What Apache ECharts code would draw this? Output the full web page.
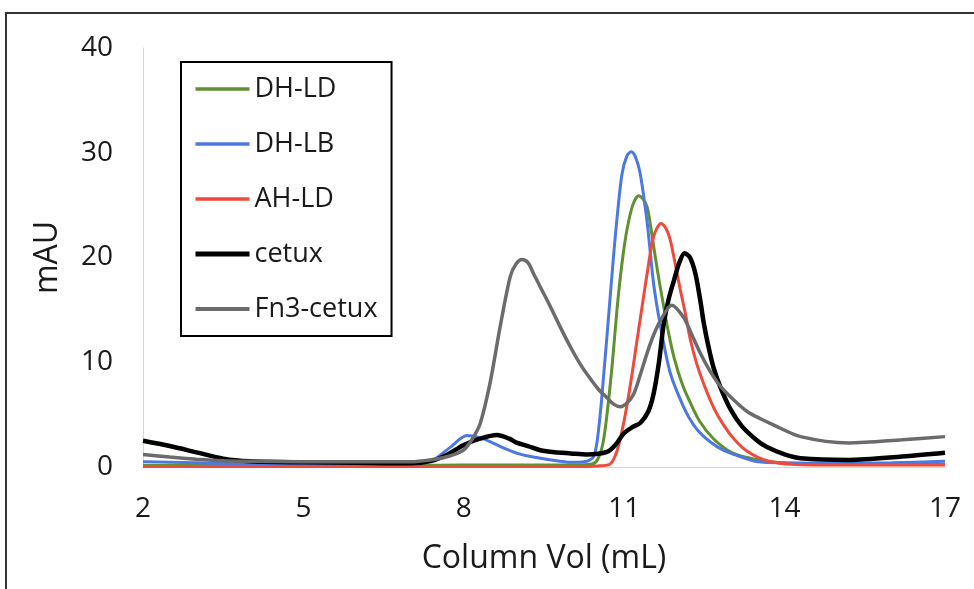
<!DOCTYPE html>
<html>
<head>
<meta charset="utf-8">
<script src="https://cdn.jsdelivr.net/npm/echarts@6/dist/echarts.min.js"></script>
<style>
  html, body { margin: 0; padding: 0; background: #fff; }
  #chart { width: 974px; height: 589px; }
</style>
</head>
<body>
<div id="chart"></div>
<script>
// column volume (mL) and absorbance (mAU)
const seriesNames = ['DH-LD', 'DH-LB', 'AH-LD', 'cetux', 'Fn3-cetux'];
const xTicks = [2, 5, 8, 11, 14, 17];

const dhldX = [2, 3, 4, 5, 6, 7, 8, 9, 10, 10.4, 10.5, 10.6, 10.68, 10.78, 10.87, 10.96, 11.05, 11.16, 11.27, 11.35, 11.43, 11.5, 11.58, 11.66, 11.74, 11.83, 11.93, 12.08, 12.24, 12.42, 12.67, 13.0, 13.3, 13.7, 14.5, 15.5, 16.5, 17];
const dhldY = [0.15, 0.15, 0.15, 0.15, 0.15, 0.15, 0.2, 0.2, 0.2, 0.3, 0.7, 2.2, 5.1, 10.0, 15.3, 19.5, 22.6, 25.0, 25.9, 25.6, 24.8, 22.8, 20.1, 17.6, 15.3, 12.8, 10.5, 8.0, 6.1, 4.3, 2.7, 1.4, 0.9, 0.5, 0.3, 0.25, 0.25, 0.25];

const dhlbX = [2, 2.5, 3, 4, 5, 6, 7, 7.4, 7.75, 8.06, 8.3, 8.5, 8.75, 9.0, 9.3, 9.6, 10.0, 10.25, 10.43, 10.53, 10.62, 10.71, 10.8, 10.88, 10.96, 11.05, 11.13, 11.21, 11.3, 11.43, 11.55, 11.68, 11.86, 12.11, 12.3, 12.49, 12.75, 13.0, 13.5, 14, 15, 16, 17];
const dhlbY = [0.5, 0.45, 0.4, 0.3, 0.3, 0.3, 0.35, 0.6, 1.9, 3.0, 2.8, 2.4, 1.8, 1.3, 0.95, 0.7, 0.45, 0.5, 1.0, 4.0, 9.0, 14.5, 20.1, 24.5, 28.0, 29.7, 30.1, 29.6, 28.0, 23.3, 17.5, 13.4, 9.0, 5.75, 4.0, 2.9, 1.9, 1.3, 0.5, 0.4, 0.35, 0.4, 0.55];

const ahldX = [2, 4, 6, 8, 10, 10.5, 10.74, 10.87, 10.99, 11.12, 11.24, 11.34, 11.43, 11.55, 11.69, 11.78, 11.86, 11.95, 12.05, 12.15, 12.24, 12.36, 12.49, 12.67, 12.86, 13.05, 13.3, 13.67, 14.2, 15, 16, 17];
const ahldY = [0.05, 0.05, 0.05, 0.05, 0.05, 0.1, 0.3, 1.6, 4.2, 8.0, 12.1, 15.5, 18.5, 22.0, 23.25, 22.8, 21.7, 19.5, 16.9, 14.5, 12.1, 9.8, 7.9, 5.7, 4.0, 2.7, 1.5, 0.6, 0.25, 0.2, 0.2, 0.2];

const cetuxX = [2, 2.5, 3, 3.5, 4, 5, 6, 7, 7.4, 7.7, 8.0, 8.3, 8.62, 8.85, 9.0, 9.2, 9.43, 9.7, 10.0, 10.3, 10.68, 10.85, 10.99, 11.15, 11.3, 11.45, 11.55, 11.65, 11.74, 11.83, 11.93, 12.03, 12.13, 12.23, 12.33, 12.42, 12.49, 12.58, 12.67, 12.8, 12.99, 13.2, 13.49, 13.67, 14.0, 14.3, 15.2, 16.2, 17];
const cetuxY = [2.5, 2.0, 1.4, 0.8, 0.55, 0.45, 0.4, 0.35, 0.6, 1.2, 2.1, 2.7, 3.05, 2.7, 2.3, 2.0, 1.6, 1.4, 1.3, 1.2, 1.45, 2.2, 3.2, 3.8, 4.2, 5.3, 7.0, 10.0, 13.7, 16.0, 17.8, 19.5, 20.4, 20.0, 18.5, 16.0, 13.7, 11.4, 9.5, 7.6, 5.5, 3.9, 2.5, 1.9, 1.2, 0.83, 0.67, 1.0, 1.36];

const fn3X = [2, 2.5, 3, 3.5, 4, 5, 6, 7, 7.37, 7.7, 7.99, 8.15, 8.31, 8.49, 8.68, 8.87, 8.98, 9.09, 9.2, 9.3, 9.45, 9.62, 9.8, 9.99, 10.18, 10.37, 10.52, 10.68, 10.8, 10.93, 11.05, 11.18, 11.3, 11.43, 11.55, 11.68, 11.89, 12.11, 12.25, 12.42, 12.6, 12.8, 13.05, 13.3, 13.55, 13.8, 14.3, 15.2, 16.2, 17];
const fn3Y = [1.2, 0.95, 0.75, 0.6, 0.55, 0.5, 0.5, 0.5, 0.67, 1.0, 1.6, 2.6, 4.2, 8.0, 13.4, 18.2, 19.4, 19.8, 19.5, 18.5, 17.0, 15.3, 13.4, 11.5, 9.8, 8.4, 7.4, 6.6, 6.0, 5.75, 6.1, 7.0, 8.8, 10.9, 12.6, 14.0, 15.45, 14.3, 12.8, 10.9, 9.2, 7.7, 6.4, 5.3, 4.6, 4.0, 2.9, 2.3, 2.6, 2.9];

const xs = [dhldX, dhlbX, ahldX, cetuxX, fn3X];
const ys = [dhldY, dhlbY, ahldY, cetuxY, fn3Y];
const colors = ['#5f9130', '#4c78e4', '#ef4a3c', '#000000', '#6b6b6b'];
const widths = [3, 3, 3, 4.5, 3.5];

const pairs = (xArr, yArr) => xArr.map((x, i) => [x, yArr[i]]);
const font = '"Open Sans", Lato, sans-serif';

const chart = echarts.init(document.getElementById('chart'));
chart.setOption({
  animation: false,
  backgroundColor: '#fff',
  graphic: [
    {
      type: 'rect',
      shape: { x: 6, y: 13, width: 990, height: 600 },
      style: { fill: 'none', stroke: '#333', lineWidth: 2 },
      silent: true,
    },
  ],
  grid: { left: 143, right: 29, top: 48, bottom: 122 },
  legend: {
    orient: 'vertical',
    left: 181,
    top: 62,
    data: seriesNames.map((name, i) => ({
      name,
      lineStyle: { color: colors[i], width: widths[i] + 0.5 },
    })),
    itemWidth: 54,
    itemHeight: 14,
    itemGap: 27,
    padding: [13, 14, 13, 12],
    borderColor: '#000',
    borderWidth: 2,
    itemStyle: { opacity: 0 },
    textStyle: { fontFamily: font, fontSize: 27, color: '#1a1a1a', lineHeight: 28 },
  },
  xAxis: {
    type: 'value',
    min: 2,
    max: 17,
    name: 'Column Vol (mL)',
    nameLocation: 'middle',
    nameGap: 76,
    nameTextStyle: { fontFamily: font, fontSize: 32, color: '#1a1a1a' },
    axisLine: { lineStyle: { color: '#d4d4d8', width: 1 } },
    axisTick: { show: false },
    splitLine: { show: false },
    axisLabel: {
      customValues: xTicks,
      fontFamily: font,
      fontSize: 28,
      color: '#1a1a1a',
      margin: 28,
    },
  },
  yAxis: {
    type: 'value',
    min: 0,
    max: 40,
    interval: 10,
    name: 'mAU',
    nameLocation: 'middle',
    nameGap: 79,
    nameTextStyle: { fontFamily: font, fontSize: 32, color: '#1a1a1a' },
    axisLine: { show: true, lineStyle: { color: '#d4d6e0', width: 1 } },
    axisTick: { show: false },
    splitLine: { show: false },
    axisLabel: { fontFamily: font, fontSize: 28, color: '#1a1a1a', margin: 30 },
  },
  series: seriesNames.map((name, i) => ({
    name,
    type: 'line',
    data: pairs(xs[i], ys[i]),
    smooth: 0.3,
    symbol: 'none',
    color: colors[i],
    lineStyle: { color: colors[i], width: widths[i] },
  })),
});
</script>
</body>
</html>
